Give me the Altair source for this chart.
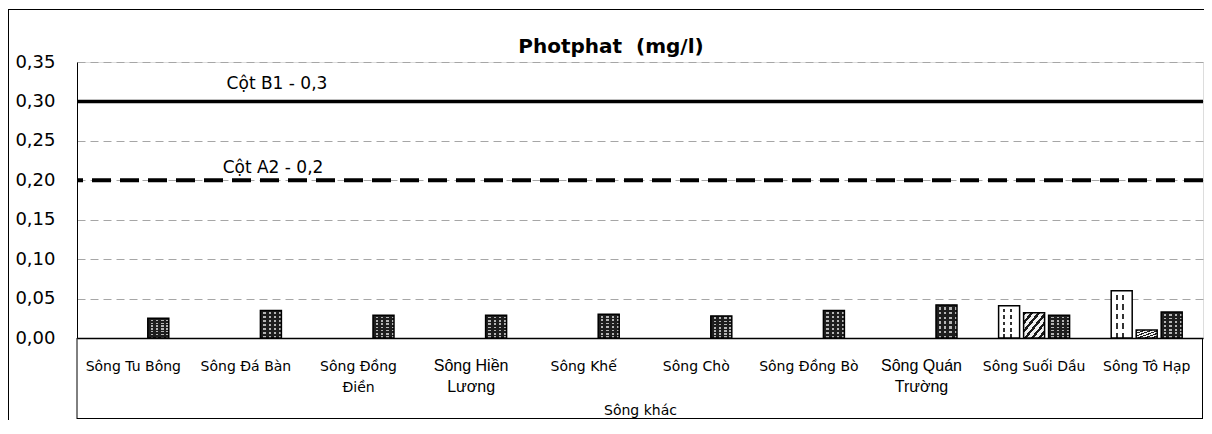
import altair as alt
import pandas as pd

# ---------------- data ----------------
rivers = ["Sông Tu Bông", "Sông Đá Bàn", "Sông Đồng Điền", "Sông Hiền Lương",
          "Sông Khế", "Sông Chò", "Sông Đồng Bò", "Sông Quán Trường",
          "Sông Suối Dầu", "Sông Tô Hạp"]
tick_lines = [["Sông Tu Bông"], ["Sông Đá Bàn"], ["Sông Đồng", "Điền"],
              ["Sông Hiền", "Lương"], ["Sông Khế"], ["Sông Chò"],
              ["Sông Đồng Bò"], ["Sông Quán", "Trường"], ["Sông Suối Dầu"],
              ["Sông Tô Hạp"]]
arial_labels = ["Sông Hiền Lương", "Sông Quán Trường"]
series_names = ["Đợt 1", "Đợt 2", "Đợt 3"]
values_1 = [None, None, None, None, None, None, None, None, 0.041, 0.060]
values_2 = [None, None, None, None, None, None, None, None, 0.032, 0.010]
values_3 = [0.025, 0.035, 0.029, 0.029, 0.030, 0.028, 0.035, 0.042, 0.029, 0.033]
y_ticks = [0.0, 0.05, 0.10, 0.15, 0.20, 0.25, 0.30, 0.35]
ref_values = [0.3, 0.2]
ref_labels = ["Cột B1 - 0,3", "Cột A2 - 0,2"]
group_label = "Sông khác"
chart_title = "Photphat \u00a0(mg/l)"

rows = []
for name, vals in zip(series_names, [values_1, values_2, values_3]):
    for r, v in zip(rivers, vals):
        if v is not None:
            rows.append({"river": r, "series": name, "value": v})
df = pd.DataFrame(rows)
ref_df = pd.DataFrame({"value": ref_values, "label": ref_labels})
title_df = pd.DataFrame({"text": [chart_title]})
deco_df = pd.DataFrame({"k": [0]})

W, H = 1126, 276
FONT = "DejaVu Sans"


def stripes(n, c_on, c_off, x1, y1, x2, y2, on_frac=0.5):
    stops = []
    for i in range(n):
        a = i / n
        b = (i + on_frac) / n
        c = (i + 1) / n
        for off, col in [(a, c_on), (b, c_on), (b, c_off), (c, c_off)]:
            stops.append({"offset": min(max(off, 0.0), 1.0), "color": col})
    return {"gradient": "linear", "x1": x1, "y1": y1, "x2": x2, "y2": y2, "stops": stops}


CLEAR = "rgba(0,0,0,0)"

# labelExpr building multi-line tick labels
expr = "datum.label"
for r, lines in zip(rivers, tick_lines):
    if len(lines) > 1:
        arr = "[" + ",".join("'" + s + "'" for s in lines) + "]"
        expr = f"datum.label == '{r}' ? {arr} : (" + expr + ")"
arial_test = "indexof([" + ",".join("'" + s + "'" for s in arial_labels) + "], datum.value) >= 0"

x_enc = alt.X("river:N", sort=rivers,
              scale=alt.Scale(domain=rivers, paddingInner=0.334, paddingOuter=0.167),
              axis=alt.Axis(title=group_label, titleY=76, titleBaseline="alphabetic",
                            titleFont=FONT, titleFontSize=14, titleFontWeight="normal",
                            titleColor="black",
                            labelAngle=0, labelExpr=expr, labelBaseline="alphabetic",
                            labelPadding=32, labelLineHeight=21, labelOverlap=False,
                            labelLimit=300, labelColor="black",
                            labelFont={"condition": {"test": arial_test, "value": "Liberation Sans"},
                                       "value": FONT},
                            labelFontSize={"condition": {"test": arial_test, "value": 16},
                                           "value": 14},
                            ticks=False, grid=False, domainColor="black", domainWidth=1.5))
xo_enc = alt.XOffset("series:N", sort=series_names,
                     scale=alt.Scale(domain=series_names, paddingInner=0.16, paddingOuter=0.08))
y_scale = alt.Scale(domain=[0, 0.35], nice=False, zero=True)
y_axis = alt.Axis(values=y_ticks, title=None,
                  labelExpr="replace(format(datum.value, '.2f'), '.', ',')",
                  labelFont=FONT, labelFontSize=18, labelColor="black",
                  labelPadding=22, ticks=False, grid=True,
                  gridColor="#a6a6a6", gridDash=[8, 5], gridWidth=1,
                  domainColor="black", domainWidth=1, labelOverlap=False)
y_enc = alt.Y("value:Q", scale=y_scale, axis=y_axis)

base = alt.Chart(df).encode(x=x_enc, xOffset=xo_enc, y=y_enc)


def bars(series, **mark):
    return base.transform_filter(alt.datum.series == series).mark_bar(**mark)


# series 1: white with dashed vertical lines
s1 = [
    bars(series_names[0], fill="white", strokeWidth=0),
    bars(series_names[0], strokeWidth=0,
         fill={"gradient": "linear", "x1": 0, "y1": 0, "x2": 1, "y2": 0,
               "stops": [{"offset": 0, "color": CLEAR}, {"offset": 0.22, "color": CLEAR},
                         {"offset": 0.22, "color": "#333"}, {"offset": 0.32, "color": "#333"},
                         {"offset": 0.32, "color": CLEAR}, {"offset": 0.52, "color": CLEAR},
                         {"offset": 0.52, "color": "#333"}, {"offset": 0.62, "color": "#333"},
                         {"offset": 0.62, "color": CLEAR}, {"offset": 1, "color": CLEAR}]}),
    bars(series_names[0], strokeWidth=0, fill=stripes(5, "white", CLEAR, 0, 0, 0, 1, 0.45)),
    bars(series_names[0], fillOpacity=0, stroke="black", strokeWidth=1.5),
]
# series 2: diagonal hatch
s2 = [
    bars(series_names[1], fill=stripes(6, "#1a1a1a", "#f0f0f0", 0, 0, 1, 1, 0.45),
         stroke="black", strokeWidth=1.5),
]
# series 3: dark with light dots
s3 = [
    bars(series_names[2], fill="#b5b5b5", strokeWidth=0),
    bars(series_names[2], strokeWidth=0, fill=stripes(4, "#1e1e1e", CLEAR, 0, 0, 1, 0, 0.55)),
    bars(series_names[2], strokeWidth=0, fill=stripes(7, "#1e1e1e", CLEAR, 0, 0, 0, 1, 0.5)),
    bars(series_names[2], fillOpacity=0, stroke="black", strokeWidth=1.5),
]

ref_base = alt.Chart(ref_df).encode(y=y_enc)
rule_b1 = ref_base.transform_filter(alt.datum.value == ref_values[0]).mark_rule(
    color="black", strokeWidth=3.5)
rule_a2 = ref_base.transform_filter(alt.datum.value == ref_values[1]).mark_rule(
    color="black", strokeWidth=4, strokeDash=[19, 9])
txt_b1 = ref_base.transform_filter(alt.datum.value == ref_values[0]).mark_text(
    font=FONT, fontSize=17, color="black", baseline="alphabetic", align="center", dy=-12
).encode(x=alt.value(200), text="label:N")
txt_a2 = ref_base.transform_filter(alt.datum.value == ref_values[1]).mark_text(
    font=FONT, fontSize=17, color="black", baseline="alphabetic", align="center", dy=-7
).encode(x=alt.value(196), text="label:N")

title_txt = alt.Chart(title_df).mark_text(
    font=FONT, fontSize=20, fontWeight="bold", color="black",
    baseline="alphabetic", align="center"
).encode(x=alt.value(534), y=alt.value(-9), text="text:N")

BOT = 82
deco = alt.Chart(deco_df)
frame_top = deco.mark_rule(color="black", strokeWidth=1).encode(
    x=alt.value(-69), x2=alt.value(W + 1), y=alt.value(-52.5))
frame_left = deco.mark_rule(color="black", strokeWidth=1).encode(
    x=alt.value(-68.5), y=alt.value(-53), y2=alt.value(H + BOT))
sep_left = deco.mark_rule(color="black", strokeWidth=1).encode(
    x=alt.value(0), y=alt.value(H), y2=alt.value(H + BOT - 1))
sep_right = deco.mark_rule(color="black", strokeWidth=1).encode(
    x=alt.value(W - 0.5), y=alt.value(H), y2=alt.value(H + BOT - 1))
sep_bottom = deco.mark_rule(color="black", strokeWidth=1).encode(
    x=alt.value(0), x2=alt.value(W), y=alt.value(H + BOT - 1.5))

chart = alt.layer(
    *s1, *s2, *s3, rule_b1, rule_a2, txt_b1, txt_a2, title_txt,
    frame_top, frame_left, sep_left, sep_right, sep_bottom
).properties(
    width=W, height=H,
    padding={"left": 69, "top": 54, "right": 1, "bottom": BOT},
    autosize=alt.AutoSizeParams(type="none"),
).configure_view(stroke="transparent", strokeWidth=0).configure(background="white")

chart.save("out.html", embed_options={"renderer": "svg", "actions": False})
